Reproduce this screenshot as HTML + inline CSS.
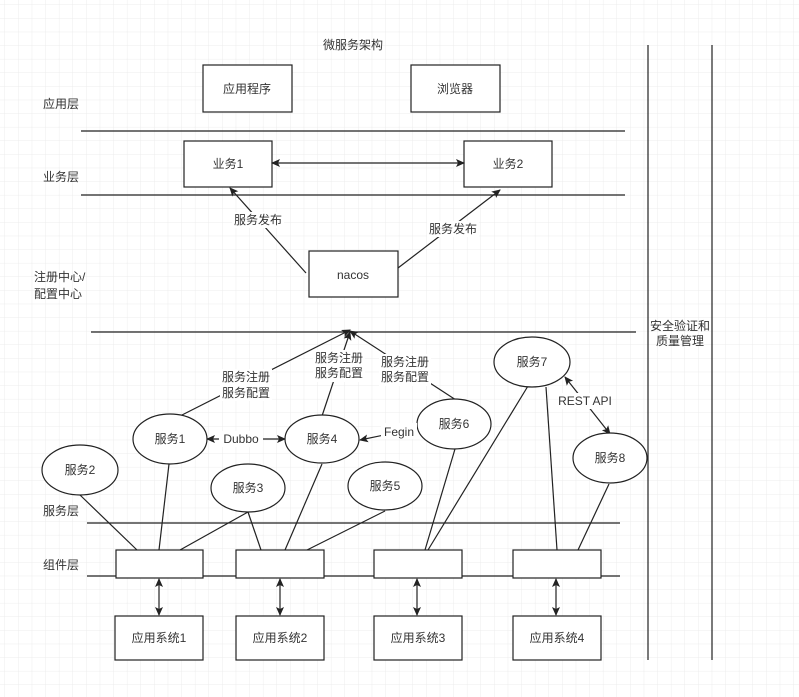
<!DOCTYPE html>
<html><head><meta charset="utf-8"><style>
html,body{margin:0;padding:0;background:#fff}
svg{display:block}
text{font-family:"Liberation Sans","Noto Sans CJK SC",sans-serif;font-size:12px;fill:#333}
</style></head><body>
<svg width="799" height="697" viewBox="0 0 799 697" xmlns="http://www.w3.org/2000/svg">
<defs>
<pattern id="g" width="13.6" height="13.6" patternUnits="userSpaceOnUse" x="5" y="5">
<path d="M13.6 0V13.6M0 13.6H13.6" stroke="#ececec" stroke-width="1" fill="none"/>
</pattern>
<marker id="a" markerWidth="10" markerHeight="10" refX="8" refY="5" orient="auto-start-reverse" markerUnits="userSpaceOnUse">
<path d="M0,1 L9,5 L0,9 L2,5 Z" fill="#222"/>
</marker>
</defs>
<rect width="799" height="697" fill="#fff"/>
<rect width="799" height="697" fill="url(#g)"/>
<g stroke="#222" stroke-width="1.2" fill="none">
<line x1="81" y1="131" x2="625" y2="131"/>
<line x1="81" y1="195" x2="625" y2="195"/>
<line x1="91" y1="332" x2="636" y2="332"/>
<line x1="87" y1="523" x2="620" y2="523"/>
<line x1="87" y1="576" x2="620" y2="576"/>
<line x1="648" y1="45" x2="648" y2="660"/>
<line x1="712" y1="45" x2="712" y2="660"/>
</g>
<g stroke="#222" stroke-width="1.2" fill="#fff">
<rect x="203" y="65" width="89" height="47"/>
<rect x="411" y="65" width="89" height="47"/>
<rect x="184" y="141" width="88" height="46"/>
<rect x="464" y="141" width="88" height="46"/>
<rect x="309" y="251" width="89" height="46"/>
<rect x="116" y="550" width="87" height="28"/>
<rect x="236" y="550" width="88" height="28"/>
<rect x="374" y="550" width="88" height="28"/>
<rect x="513" y="550" width="88" height="28"/>
<rect x="115" y="616" width="88" height="44"/>
<rect x="236" y="616" width="88" height="44"/>
<rect x="374" y="616" width="88" height="44"/>
<rect x="513" y="616" width="88" height="44"/>
</g>
<g stroke="#222" stroke-width="1.2" fill="none">
<line x1="80" y1="495" x2="137" y2="550"/>
<line x1="169" y1="464" x2="159" y2="550"/>
<line x1="248" y1="512" x2="180" y2="550"/>
<line x1="248" y1="512" x2="261" y2="550"/>
<line x1="322" y1="464" x2="285" y2="550"/>
<line x1="385" y1="511" x2="307" y2="550"/>
<line x1="455" y1="449" x2="425" y2="550"/>
<line x1="528" y1="386" x2="428" y2="550"/>
<line x1="546" y1="387" x2="557" y2="550"/>
<line x1="609" y1="484" x2="578" y2="550"/>
<line x1="272" y1="163" x2="464" y2="163" marker-start="url(#a)" marker-end="url(#a)"/>
<line x1="306" y1="273" x2="230" y2="188" marker-end="url(#a)"/>
<line x1="398" y1="268" x2="500" y2="190" marker-end="url(#a)"/>
<line x1="180" y1="416" x2="350" y2="330" marker-end="url(#a)"/>
<line x1="322" y1="416" x2="350" y2="332" marker-end="url(#a)"/>
<line x1="456" y1="400" x2="350" y2="331" marker-end="url(#a)"/>
<line x1="207" y1="439" x2="285" y2="439" marker-start="url(#a)" marker-end="url(#a)"/>
<line x1="418" y1="428" x2="360" y2="440" marker-end="url(#a)"/>
<line x1="565" y1="377" x2="610" y2="434" marker-start="url(#a)" marker-end="url(#a)"/>
<line x1="159" y1="579" x2="159" y2="615" marker-start="url(#a)" marker-end="url(#a)"/>
<line x1="280" y1="579" x2="280" y2="615" marker-start="url(#a)" marker-end="url(#a)"/>
<line x1="417" y1="579" x2="417" y2="615" marker-start="url(#a)" marker-end="url(#a)"/>
<line x1="556" y1="579" x2="556" y2="615" marker-start="url(#a)" marker-end="url(#a)"/>
</g>
<g stroke="#222" stroke-width="1.2" fill="#fff">
<ellipse cx="170" cy="439" rx="37" ry="25"/>
<ellipse cx="322" cy="439" rx="37" ry="24"/>
<ellipse cx="454" cy="424" rx="37" ry="25"/>
<ellipse cx="532" cy="362" rx="38" ry="25"/>
<ellipse cx="610" cy="458" rx="37" ry="25"/>
<ellipse cx="80" cy="470" rx="38" ry="25"/>
<ellipse cx="248" cy="488" rx="37" ry="24"/>
<ellipse cx="385" cy="486" rx="37" ry="24"/>
</g>
<g fill="#fff">
<rect x="232" y="212" width="52" height="16"/>
<rect x="427" y="221" width="52" height="16"/>
<rect x="220" y="369" width="52" height="32"/>
<rect x="313" y="350" width="52" height="32"/>
<rect x="379" y="354" width="52" height="32"/>
<rect x="219" y="431" width="44" height="16"/>
<rect x="381" y="423" width="36" height="16"/>
<rect x="559" y="393" width="52" height="16"/>
</g>
<g text-anchor="middle">
<text x="353" y="49">微服务架构</text>
<text x="247" y="93">应用程序</text>
<text x="455" y="93">浏览器</text>
<text x="228" y="168">业务1</text>
<text x="508" y="168">业务2</text>
<text x="353" y="279">nacos</text>
<text x="258" y="224">服务发布</text>
<text x="453" y="233">服务发布</text>
<text x="246" y="381">服务注册</text><text x="246" y="397">服务配置</text>
<text x="339" y="362">服务注册</text><text x="339" y="377">服务配置</text>
<text x="405" y="366">服务注册</text><text x="405" y="381">服务配置</text>
<text x="241" y="443">Dubbo</text>
<text x="399" y="436">Fegin</text>
<text x="585" y="405">REST API</text>
<text x="170" y="443">服务1</text>
<text x="322" y="443">服务4</text>
<text x="454" y="428">服务6</text>
<text x="532" y="366">服务7</text>
<text x="610" y="462">服务8</text>
<text x="80" y="474">服务2</text>
<text x="248" y="492">服务3</text>
<text x="385" y="490">服务5</text>
<text x="159" y="642">应用系统1</text>
<text x="280" y="642">应用系统2</text>
<text x="418" y="642">应用系统3</text>
<text x="557" y="642">应用系统4</text>
<text x="680" y="330">安全验证和</text>
<text x="680" y="345">质量管理</text>
</g>
<text x="43" y="108">应用层</text>
<text x="43" y="181">业务层</text>
<text x="34" y="281">注册中心/</text>
<text x="34" y="298">配置中心</text>
<text x="43" y="515">服务层</text>
<text x="43" y="569">组件层</text>
</svg>
</body></html>
